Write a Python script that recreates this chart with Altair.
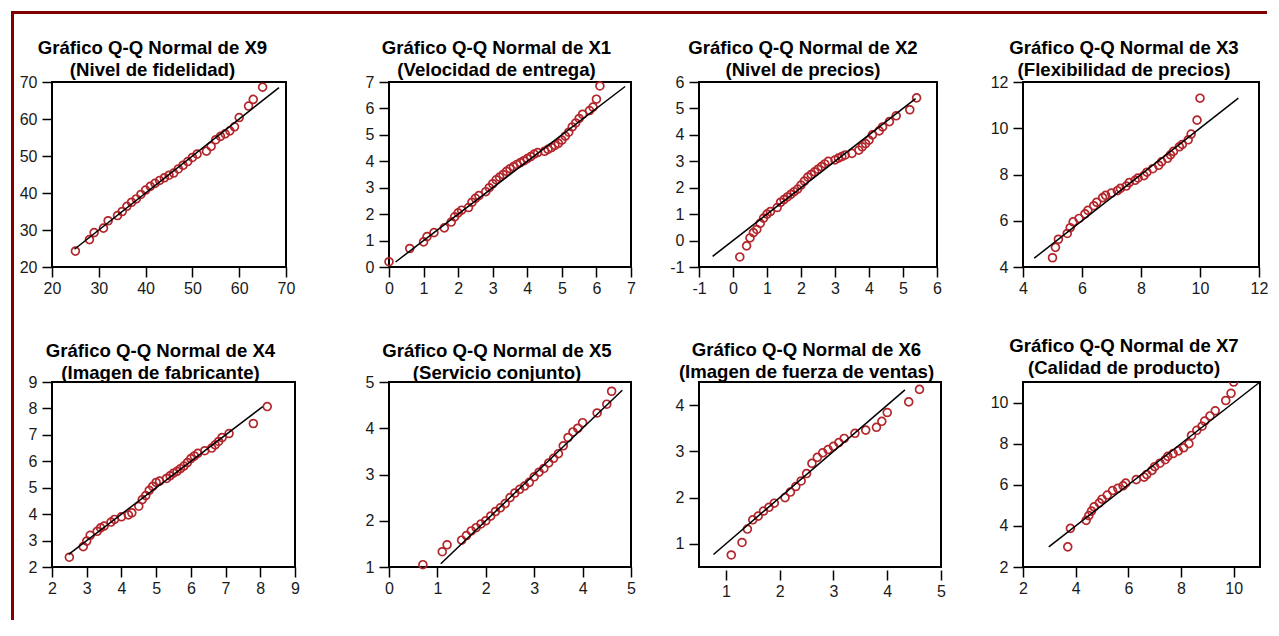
import altair as alt
import pandas as pd

# ---------------- data (observed value, expected normal value) ----------------
x9_obs = [25, 28, 29, 31, 32, 34, 35, 36, 37, 38, 39, 40, 41, 42, 43, 44, 45, 46, 47, 48, 49, 50, 51, 53, 54, 55, 56, 57, 58, 59, 60, 62, 63, 65]
x9_exp = [24.3, 27.4, 29.3, 30.5, 32.5, 33.9, 35.0, 36.4, 37.5, 38.4, 39.6, 40.8, 41.8, 42.6, 43.4, 44.1, 44.8, 45.4, 46.5, 47.5, 48.5, 49.6, 50.5, 51.3, 52.6, 54.4, 55.3, 56.0, 56.8, 57.9, 60.4, 63.5, 65.3, 68.6]

x1_obs = [0.0, 0.6, 1.0, 1.1, 1.3, 1.6, 1.8, 1.9, 2.0, 2.1, 2.3, 2.4, 2.5, 2.6, 2.8, 2.9, 3.0, 3.1, 3.2, 3.3, 3.4, 3.5, 3.6, 3.7, 3.8, 3.9, 4.0, 4.1, 4.2, 4.3, 4.5, 4.6, 4.7, 4.8, 4.9, 5.0, 5.1, 5.2, 5.3, 5.4, 5.5, 5.6, 5.8, 5.9, 6.0, 6.1]
x1_exp = [0.2, 0.7, 0.95, 1.15, 1.3, 1.48, 1.7, 1.9, 2.05, 2.15, 2.25, 2.45, 2.6, 2.7, 2.85, 3.0, 3.15, 3.3, 3.4, 3.5, 3.62, 3.72, 3.8, 3.88, 3.95, 4.02, 4.1, 4.18, 4.27, 4.33, 4.38, 4.45, 4.52, 4.6, 4.68, 4.8, 4.95, 5.1, 5.3, 5.45, 5.62, 5.78, 5.92, 6.05, 6.35, 6.85]

x2_obs = [0.2, 0.4, 0.5, 0.6, 0.7, 0.8, 0.9, 1.0, 1.1, 1.3, 1.4, 1.5, 1.6, 1.7, 1.8, 1.9, 2.0, 2.1, 2.2, 2.3, 2.4, 2.5, 2.6, 2.7, 2.8, 3.0, 3.1, 3.2, 3.3, 3.5, 3.7, 3.8, 3.9, 4.0, 4.1, 4.3, 4.4, 4.6, 4.8, 5.2, 5.4]
x2_exp = [-0.62, -0.2, 0.1, 0.3, 0.42, 0.65, 0.85, 1.0, 1.1, 1.25, 1.45, 1.55, 1.65, 1.75, 1.85, 1.95, 2.1, 2.25, 2.4, 2.5, 2.6, 2.7, 2.8, 2.9, 3.0, 3.05, 3.12, 3.18, 3.24, 3.3, 3.42, 3.55, 3.67, 3.8, 4.0, 4.15, 4.3, 4.5, 4.72, 4.95, 5.4]

x3_obs = [5.0, 5.1, 5.2, 5.5, 5.6, 5.7, 5.9, 6.1, 6.2, 6.4, 6.5, 6.7, 6.8, 7.0, 7.2, 7.3, 7.5, 7.6, 7.8, 7.9, 8.1, 8.2, 8.4, 8.6, 8.7, 8.9, 9.0, 9.1, 9.3, 9.4, 9.6, 9.7, 9.9, 10.0]
x3_exp = [4.4, 4.85, 5.2, 5.45, 5.7, 5.95, 6.1, 6.3, 6.45, 6.65, 6.8, 7.0, 7.1, 7.2, 7.3, 7.4, 7.5, 7.65, 7.75, 7.85, 7.95, 8.1, 8.25, 8.4, 8.55, 8.7, 8.85, 9.0, 9.2, 9.3, 9.5, 9.75, 10.35, 11.3]

x4_obs = [2.5, 2.9, 3.0, 3.1, 3.3, 3.4, 3.5, 3.7, 3.8, 4.0, 4.2, 4.3, 4.5, 4.6, 4.7, 4.8, 4.9, 5.0, 5.1, 5.3, 5.4, 5.5, 5.6, 5.7, 5.8, 5.9, 6.0, 6.1, 6.2, 6.4, 6.6, 6.7, 6.8, 6.9, 7.1, 7.8, 8.2]
x4_exp = [2.37, 2.77, 2.98, 3.2, 3.35, 3.48, 3.55, 3.7, 3.8, 3.9, 3.97, 4.05, 4.3, 4.55, 4.7, 4.9, 5.05, 5.2, 5.25, 5.35, 5.45, 5.55, 5.62, 5.72, 5.82, 5.95, 6.1, 6.2, 6.3, 6.4, 6.5, 6.62, 6.75, 6.9, 7.05, 7.43, 8.07]

x5_obs = [0.7, 1.1, 1.2, 1.5, 1.6, 1.7, 1.8, 1.9, 2.0, 2.1, 2.2, 2.3, 2.4, 2.5, 2.6, 2.7, 2.8, 2.9, 3.0, 3.1, 3.2, 3.3, 3.4, 3.5, 3.6, 3.7, 3.8, 3.9, 4.0, 4.3, 4.5, 4.6]
x5_exp = [1.05, 1.33, 1.48, 1.58, 1.68, 1.78, 1.85, 1.93, 2.0, 2.1, 2.2, 2.28, 2.37, 2.5, 2.6, 2.68, 2.75, 2.83, 2.95, 3.05, 3.13, 3.25, 3.35, 3.45, 3.62, 3.8, 3.92, 4.0, 4.12, 4.33, 4.52, 4.8]

x6_obs = [1.1, 1.3, 1.4, 1.5, 1.6, 1.7, 1.8, 1.9, 2.1, 2.2, 2.3, 2.4, 2.5, 2.6, 2.7, 2.8, 2.9, 3.0, 3.1, 3.2, 3.4, 3.6, 3.8, 3.9, 4.0, 4.4, 4.6]
x6_exp = [0.76, 1.03, 1.32, 1.52, 1.6, 1.71, 1.79, 1.88, 2.0, 2.12, 2.24, 2.36, 2.52, 2.74, 2.87, 2.97, 3.04, 3.11, 3.19, 3.28, 3.39, 3.46, 3.52, 3.65, 3.84, 4.07, 4.34]

x7_obs = [3.7, 3.8, 4.4, 4.5, 4.6, 4.7, 4.9, 5.0, 5.2, 5.4, 5.6, 5.8, 5.9, 6.3, 6.6, 6.7, 6.9, 7.0, 7.2, 7.4, 7.5, 7.7, 7.9, 8.1, 8.3, 8.4, 8.6, 8.8, 8.9, 9.1, 9.3, 9.7, 9.9, 10.0]
x7_exp = [2.98, 3.88, 4.27, 4.5, 4.72, 4.93, 5.12, 5.3, 5.5, 5.72, 5.83, 5.95, 6.08, 6.25, 6.37, 6.5, 6.7, 6.88, 7.05, 7.22, 7.38, 7.52, 7.65, 7.8, 8.0, 8.4, 8.65, 8.85, 9.1, 9.35, 9.6, 10.1, 10.45, 11.0]

# reference line (y = x) end points per panel
x9_line = [24.8, 68.5]
x1_line = [0.19, 6.83]
x2_line = [-0.6, 5.37]
x3_line = [4.38, 11.3]
x4_line = [2.48, 8.07]
x5_line = [1.07, 4.82]
x6_line = [0.77, 4.33]
x7_line = [2.98, 11.0]

titles = {
    "X9": ["Gráfico Q-Q Normal de X9", "(Nivel de fidelidad)"],
    "X1": ["Gráfico Q-Q Normal de X1", "(Velocidad de entrega)"],
    "X2": ["Gráfico Q-Q Normal de X2", "(Nivel de precios)"],
    "X3": ["Gráfico Q-Q Normal de X3", "(Flexibilidad de precios)"],
    "X4": ["Gráfico Q-Q Normal de X4", "(Imagen de fabricante)"],
    "X5": ["Gráfico Q-Q Normal de X5", "(Servicio conjunto)"],
    "X6": ["Gráfico Q-Q Normal de X6", "(Imagen de fuerza de ventas)"],
    "X7": ["Gráfico Q-Q Normal de X7", "(Calidad de producto)"],
}

RED = "#b3262b"
BORDER = "#800000"
FONT = "Liberation Sans"
H = 185


def axis(values, offset=0, pad=3):
    return alt.Axis(values=values, tickCount=len(values), grid=False, domain=False,
                    tickColor="#000", tickWidth=1.5, tickSize=10, labelFont=FONT,
                    labelFontSize=16, labelColor="#1a1a1a", labelPadding=pad,
                    labelFlush=False, labelOverlap=False,
                    labelExpr="datum.value + ''", offset=offset, title=None)


def panel(key, obs, exp, line_ends, xdom, xticks, ydom, yticks, w,
          xoff=0, clip=False, toff=-6, tdx=-14):
    pts = pd.DataFrame({"obs": obs, "exp": exp})
    ln = pd.DataFrame({"obs": line_ends, "exp": line_ends})
    xs = alt.Scale(domain=xdom, nice=False, zero=False)
    ys = alt.Scale(domain=ydom, nice=False, zero=False)
    points = alt.Chart(pts).mark_point(
        shape="circle", filled=False, color=RED, size=62, strokeWidth=1.7,
        opacity=1, clip=clip
    ).encode(
        x=alt.X("obs:Q", scale=xs, axis=axis(xticks, xoff, 3)),
        y=alt.Y("exp:Q", scale=ys, axis=axis(yticks, 0, 5)),
    )
    line = alt.Chart(ln).mark_line(color="black", strokeWidth=1.5).encode(
        x="obs:Q", y="exp:Q")
    return alt.layer(points, line).properties(
        width=w, height=H,
        title=alt.TitleParams(text=titles[key], font=FONT, fontSize=18.6,
                              fontWeight="bold", color="black", lineHeight=22,
                              anchor="middle", frame="group", offset=toff,
                              dx=tdx),
    )


def spacer(w, border=False):
    base = alt.Chart(pd.DataFrame({"v": [0]}))
    pt = base.mark_point(opacity=0).encode(
        x=alt.X("v:Q", axis=None), y=alt.Y("v:Q", axis=None))
    layers = [pt]
    if border:
        # dark-red window frame (left and top edges), positioned relative to the first cell
        left = base.mark_rule(color=BORDER, strokeWidth=3).encode(
            x=alt.value(-29.5), y=alt.value(-71), y2=alt.value(538))
        top = base.mark_rule(color=BORDER, strokeWidth=3).encode(
            x=alt.value(-31), x2=alt.value(1225), y=alt.value(-69.5))
        layers = [left, top, pt]
    return alt.layer(*layers).properties(
        width=w, height=H, view=alt.ViewBackground(stroke="transparent"))


p1 = panel("X9", x9_obs, x9_exp, x9_line, [20, 70], [20, 30, 40, 50, 60, 70],
           [20, 70], [20, 30, 40, 50, 60, 70], 234, tdx=-16.5)
p2 = panel("X1", x1_obs, x1_exp, x1_line, [0, 7], list(range(0, 8)),
           [0, 7], list(range(0, 8)), 242, tdx=-13.5)
p3 = panel("X2", x2_obs, x2_exp, x2_line, [-1, 6], list(range(-1, 7)),
           [-1, 6], list(range(-1, 7)), 238, tdx=-15)
p4 = panel("X3", x3_obs, x3_exp, x3_line, [4, 12], [4, 6, 8, 10, 12],
           [4, 12], [4, 6, 8, 10, 12], 236, tdx=-17)
p5 = panel("X4", x4_obs, x4_exp, x4_line, [2, 9], list(range(2, 10)),
           [2, 9], list(range(2, 10)), 243, toff=-9, tdx=-13)
p6 = panel("X5", x5_obs, x5_exp, x5_line, [0, 5], list(range(0, 6)),
           [1, 5], list(range(1, 6)), 242, toff=-9, tdx=-13)
p7 = panel("X6", x6_obs, x6_exp, x6_line, [0.5, 5], [1, 2, 3, 4, 5],
           [0.5, 4.5], [1, 2, 3, 4], 242, xoff=3, toff=0, tdx=-13.5)
p8 = panel("X7", x7_obs, x7_exp, x7_line, [2, 11], [2, 4, 6, 8, 10],
           [2, 11], [2, 4, 6, 8, 10], 237, clip=True, toff=1, tdx=-17.5)

cells = [spacer(10, border=True), p1, spacer(94), p2, spacer(68), p3, spacer(78), p4,
         spacer(8), p5, spacer(87), p6, spacer(59), p7, spacer(82), p8]

chart = alt.concat(
    *cells, columns=8, align="none", bounds="flush",
    spacing=alt.RowColnumber(row=115, column=0)
).properties(
    padding={"left": 0, "top": 0, "right": 0, "bottom": 0},
    background="white",
).configure_view(stroke="#000", strokeWidth=2)

chart.save("out.html", embed_options={"renderer": "svg", "actions": False})
